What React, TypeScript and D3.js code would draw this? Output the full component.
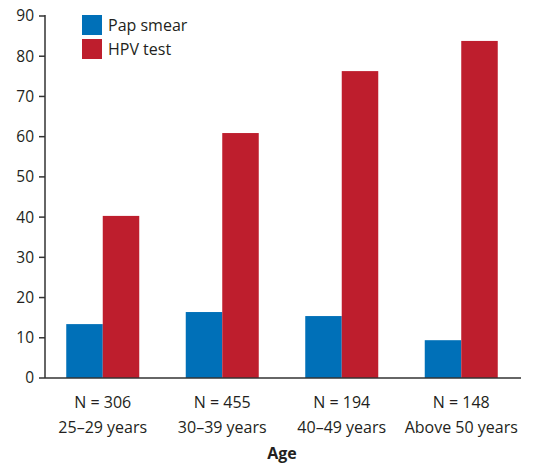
import React from "react";
import * as d3 from "d3";

const groups = ["g1", "g2", "g3", "g4"];
const nLabels = ["N = 306", "N = 455", "N = 194", "N = 148"];
const ageLabels = ["25–29 years", "30–39 years", "40–49 years", "Above 50 years"];
const seriesNames = ["Pap smear", "HPV test"];
const papSmear = [13.4, 16.4, 15.4, 9.4];
const hpvTest = [40.3, 60.9, 76.3, 83.8];
const yTicks = [0, 10, 20, 30, 40, 50, 60, 70, 80, 90];
const colors = ["#0070b8", "#be1e2d"];

export default function App() {
  const W = 541, H = 464;
  const x = d3.scaleBand<string>().domain(groups).range([43, 521]).paddingInner(0).paddingOuter(0);
  const inner = d3.scaleBand<string>().domain(seriesNames).range([0, x.bandwidth()]).paddingOuter(0.637).paddingInner(0);
  const y = d3.scaleLinear().domain([0, 90]).range([378, 16]);
  const series = [papSmear, hpvTest];
  const font = "'Open Sans', 'Noto Sans', sans-serif";
  const txt = "#231f20";
  return (
    <svg width={W} height={H} style={{ position: "absolute", left: 0, top: 0, fontFamily: font }}>
      <rect width={W} height={H} fill="#fff" />
      {series.map((vals, si) =>
        vals.map((v, i) => (
          <rect key={`${si}-${i}`} x={x(groups[i])! + inner(seriesNames[si])!} y={y(v)} width={inner.bandwidth()} height={y(0) - y(v)} fill={colors[si]} />
        ))
      )}
      <line x1={45} x2={45} y1={y(90) - 1} y2={y(0)} stroke="#333" strokeWidth={1.5} />
      <line x1={45} x2={521} y1={y(0)} y2={y(0)} stroke="#333" strokeWidth={1.5} />
      {yTicks.map((t) => (
        <g key={t}>
          <line x1={39} x2={45} y1={y(t)} y2={y(t)} stroke="#333" strokeWidth={1.5} />
          <text x={34} y={y(t)} dy="0.35em" textAnchor="end" fontSize={15.5} fill={txt}>{t}</text>
        </g>
      ))}
      {groups.map((g, i) => (
        <g key={g}>
          <text x={x(g)! + x.bandwidth() / 2} y={402} dy="0.35em" textAnchor="middle" fontSize={16} fill={txt}>{nLabels[i]}</text>
          <text x={x(g)! + x.bandwidth() / 2} y={427} dy="0.35em" textAnchor="middle" fontSize={16} fill={txt}>{ageLabels[i]}</text>
        </g>
      ))}
      <text x={282} y={453} dy="0.35em" textAnchor="middle" fontSize={16} fontWeight="bold" fill={txt}>Age</text>
      {seriesNames.map((s, i) => (
        <g key={s}>
          <rect x={82} y={15 + i * 24} width={20} height={20} fill={colors[i]} />
          <text x={108} y={25 + i * 24} dy="0.35em" fontSize={16} fill={txt}>{s}</text>
        </g>
      ))}
    </svg>
  );
}
